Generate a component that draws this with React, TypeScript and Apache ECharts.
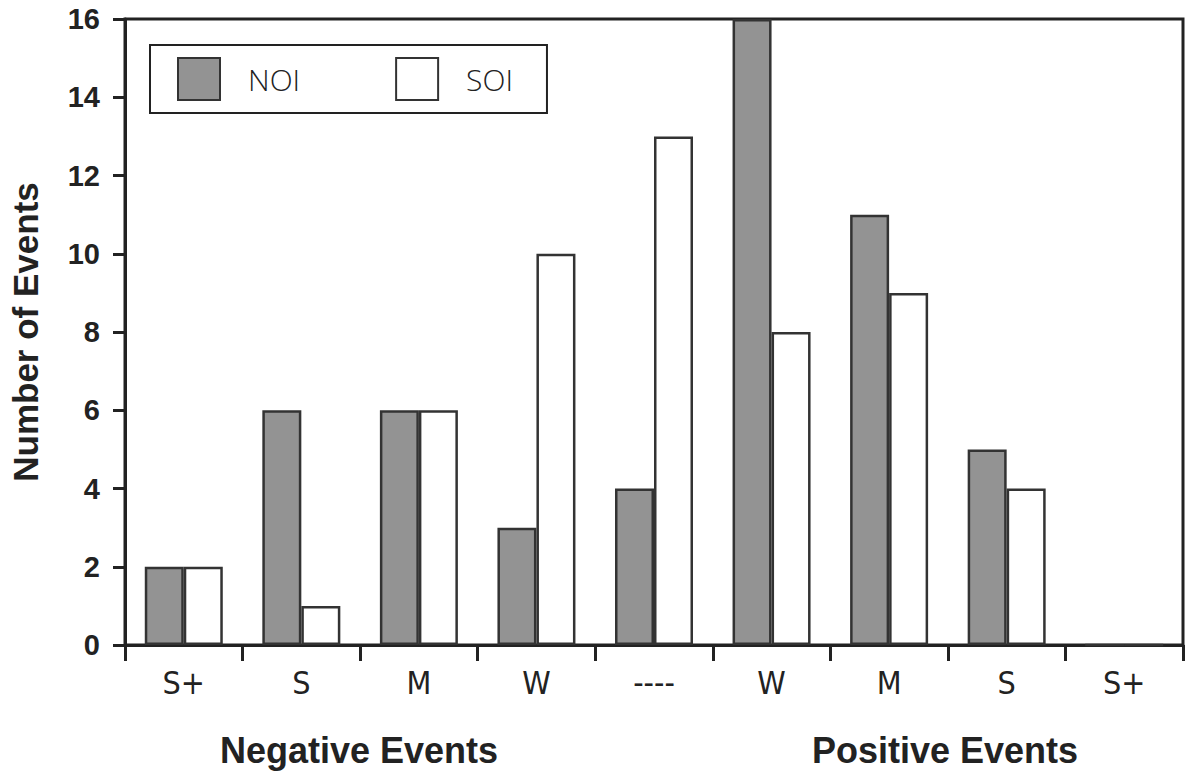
import React, { useEffect, useRef } from "react";
import * as echarts from "echarts";

const categories = ["S+", "S", "M", "W", "----", "W", "M", "S", "S+"];
const noiValues = [2, 6, 6, 3, 4, 16, 11, 5, 0];
const soiValues = [2, 1, 6, 10, 13, 8, 9, 4, 0];
const groupLabels = ["Negative Events", "Positive Events"];

export default function App() {
  const ref = useRef<HTMLDivElement>(null);
  useEffect(() => {
    const chart = echarts.init(ref.current!, null, { renderer: "svg" });
    const ink = "#222";
    const sans = "Liberation Sans, Arial, Helvetica, sans-serif";
    chart.setOption({
      animation: false,
      backgroundColor: "#fff",
      textStyle: { fontFamily: sans },
      grid: {
        left: 125,
        right: 4,
        top: 19,
        bottom: 126,
        outerBoundsMode: "none",
        containLabel: false,
        show: true,
        borderColor: ink,
        borderWidth: 3,
        backgroundColor: "transparent",
      },
      legend: {
        left: 150,
        top: 45,
        orient: "horizontal",
        backgroundColor: "#fff",
        borderColor: ink,
        borderWidth: 2,
        borderRadius: 0,
        padding: [12, 34, 12, 27],
        itemWidth: 42,
        itemHeight: 42,
        itemGap: 95,
        icon: "rect",
        selectedMode: false,
        textStyle: {
          fontSize: 30,
          fontWeight: 300,
          color: ink,
          fontFamily: "Open Sans, Liberation Sans, sans-serif",
          padding: [0, 0, 0, 23],
        },
        data: ["NOI", "SOI"],
      },
      xAxis: {
        type: "category",
        data: categories,
        axisLine: { show: true, lineStyle: { color: ink, width: 3 } },
        axisTick: { show: true, length: 16, lineStyle: { color: ink, width: 3 }, interval: 0 },
        axisLabel: {
          fontSize: 32,
          color: ink,
          margin: 22,
          interval: 0,
          fontFamily: "Liberation Sans Narrow, DejaVu Sans Condensed, Liberation Sans, sans-serif",
        },
        splitLine: { show: false },
      },
      yAxis: {
        type: "value",
        min: 0,
        max: 16,
        interval: 2,
        name: "Number of Events",
        nameLocation: "middle",
        nameGap: 82,
        nameTextStyle: { fontSize: 35, fontWeight: "bold", color: ink },
        axisLine: { show: true, lineStyle: { color: ink, width: 3 } },
        axisTick: { show: true, length: 12, lineStyle: { color: ink, width: 3 } },
        axisLabel: { fontSize: 29, fontWeight: "bold", color: ink, margin: 25 },
        splitLine: { show: false },
      },
      series: [
        {
          name: "NOI",
          type: "bar",
          data: noiValues,
          barWidth: 39,
          barGap: "0%",
          itemStyle: { color: "#939393", borderColor: "#333", borderWidth: 2.5 },
        },
        {
          name: "SOI",
          type: "bar",
          data: soiValues,
          barWidth: 39,
          barGap: "0%",
          itemStyle: { color: "#fff", borderColor: "#333", borderWidth: 2.5 },
        },
      ],
      graphic: [
        {
          type: "text",
          x: 359,
          y: 750,
          style: {
            text: groupLabels[0],
            fontSize: 36,
            fontWeight: "bold",
            fill: ink,
            fontFamily: sans,
            align: "center",
            verticalAlign: "middle",
          },
        },
        {
          type: "text",
          x: 945,
          y: 750,
          style: {
            text: groupLabels[1],
            fontSize: 36,
            fontWeight: "bold",
            fill: ink,
            fontFamily: sans,
            align: "center",
            verticalAlign: "middle",
          },
        },
      ],
    });
    return () => chart.dispose();
  }, []);
  return (
    <div
      ref={ref}
      style={{ position: "fixed", left: 0, top: 0, width: 1187, height: 771 }}
    />
  );
}
